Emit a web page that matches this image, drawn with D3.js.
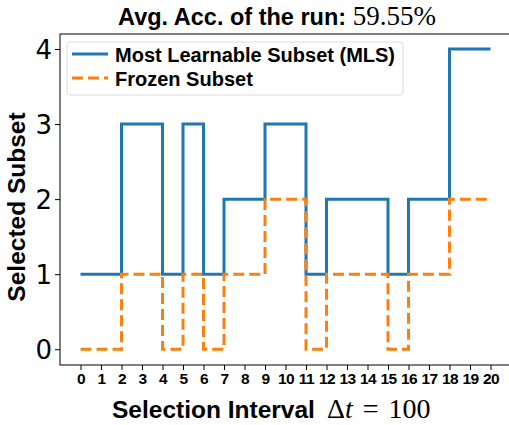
<!DOCTYPE html>
<html lang="en">
<head>
<meta charset="utf-8">
<script src="https://cdn.jsdelivr.net/npm/d3@7"></script>
<style>
  body { margin: 0; background: #fff; }
  .bold { font-family: "Liberation Sans", Arial, sans-serif; font-weight: bold; }
  .tex { font-family: "Liberation Serif", serif; }
</style>
</head>
<body>
<div id="chart"></div>
<script>
// step values at each selection interval 0..20
var intervals = d3.range(0, 21);
var mlsValues =    [1, 1, 3, 3, 1, 3, 1, 2, 2, 3, 3, 1, 2, 2, 2, 1, 2, 2, 4, 4, 4];
var frozenValues = [0, 0, 1, 1, 0, 1, 0, 1, 1, 2, 2, 0, 1, 1, 1, 0, 1, 1, 2, 2, 2];
var yTicks = [0, 1, 2, 3, 4];
var seriesNames = ["Most Learnable Subset (MLS)", "Frozen Subset"];

var W = 509, H = 425;
var margin = {top: 34, right: -2, bottom: 60, left: 60};
var width = W - margin.left - margin.right,
    height = H - margin.top - margin.bottom;

var svg = d3.select("#chart").append("svg")
    .attr("width", W).attr("height", H)
    .style("overflow", "hidden");

var g = svg.append("g")
    .attr("transform", "translate(" + margin.left + "," + margin.top + ")");

var x = d3.scaleLinear().domain([-1, 21]).range([0, width]);
var y = d3.scaleLinear().domain([-0.21, 4.2]).range([height, 0]);

// x axis
var xAxis = g.append("g")
    .attr("transform", "translate(0," + height + ")")
    .call(d3.axisBottom(x).tickValues(intervals).tickFormat(d3.format("d")).tickSize(5).tickPadding(3));
xAxis.select(".domain").remove();
xAxis.selectAll("text").attr("class", "bold").style("font-size", "15.5px")
    .style("letter-spacing", "-0.5px").attr("fill", "#000");

// y axis
var yAxis = g.append("g")
    .call(d3.axisLeft(y).tickValues(yTicks).tickFormat(d3.format("d")).tickSize(5).tickPadding(3));
yAxis.select(".domain").remove();
yAxis.selectAll("text").style("font-family", "'DejaVu Sans', sans-serif")
    .style("font-size", "26px").attr("fill", "#000").attr("dy", "0.36em");

// frame
g.append("rect").attr("width", width).attr("height", height)
    .attr("fill", "none").attr("stroke", "#000").attr("stroke-width", 1);

var line = d3.line()
    .x(function(d) { return x(d[0]); })
    .y(function(d) { return y(d[1]); })
    .curve(d3.curveStepAfter);

g.append("path")
    .datum(d3.zip(intervals, mlsValues))
    .attr("d", line)
    .attr("fill", "none").attr("stroke", "#1f77b4").attr("stroke-width", 3);

g.append("path")
    .datum(d3.zip(intervals, frozenValues))
    .attr("d", line)
    .attr("fill", "none").attr("stroke", "#ff7f0e").attr("stroke-width", 3)
    .attr("stroke-dasharray", "11,5");

// legend
var leg = g.append("g").attr("transform", "translate(7,8)");
leg.append("rect").attr("width", 336).attr("height", 53).attr("rx", 3)
    .attr("fill", "#fff").attr("fill-opacity", 0.8)
    .attr("stroke", "#ddd").attr("stroke-width", 1);
var styles = [{c: "#1f77b4", dash: null}, {c: "#ff7f0e", dash: "11,5"}];
seriesNames.forEach(function(name, i) {
  var yy = 12 + i * 24;
  leg.append("line").attr("x1", 5).attr("x2", 41).attr("y1", yy).attr("y2", yy)
      .attr("stroke", styles[i].c).attr("stroke-width", 3)
      .attr("stroke-dasharray", styles[i].dash);
  leg.append("text").attr("class", "bold").attr("x", 48).attr("y", yy + 8)
      .style("font-size", "20px").text(name);
});

// title
var title = svg.append("text").attr("x", 277).attr("y", 25).attr("text-anchor", "middle");
title.append("tspan").attr("class", "bold").style("font-size", "23.5px").text("Avg. Acc. of the run: ");
title.append("tspan").attr("class", "tex").style("font-size", "27px").text("59.55%");

// x label
svg.append("text").attr("class", "bold").attr("x", 112).attr("y", 418)
    .style("font-size", "24.5px").text("Selection Interval");
var xl = svg.append("text").attr("class", "tex").attr("x", 327).attr("y", 418)
    .style("font-size", "28px");
xl.append("tspan").text("\u0394");
xl.append("tspan").style("font-style", "italic").text("t");
xl.append("tspan").attr("dx", 10).text("=");
xl.append("tspan").attr("dx", 10).text("100");

// y label
svg.append("text").attr("class", "bold")
    .attr("transform", "translate(25,207) rotate(-90)")
    .attr("text-anchor", "middle").style("font-size", "24.5px")
    .text("Selected Subset");
</script>
</body>
</html>
